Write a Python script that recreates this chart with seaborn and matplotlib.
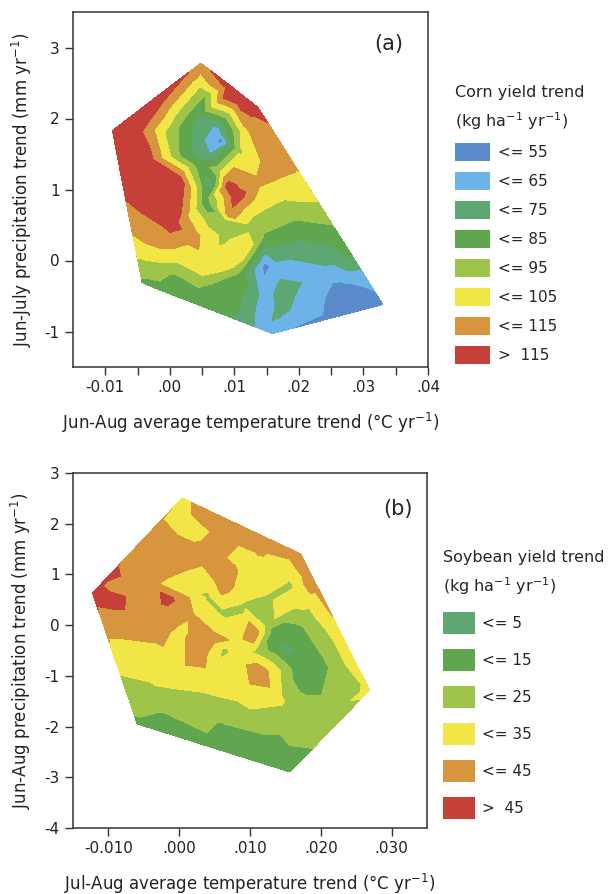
import matplotlib
matplotlib.use("Agg")
import matplotlib.pyplot as plt
import matplotlib.tri as mtri
from matplotlib.patches import Patch
import numpy as np
import seaborn as sns

sns.set_style("ticks")
plt.rcParams["font.family"] = ["DejaVu Sans"]

# ---- panel (a): corn, sample points ----
corn_temp = [-0.0089, 0.0048, 0.0136, 0.0330, 0.0159, -0.0043,
             -0.0075, -0.0063, -0.0053, -0.0047, -0.0021, 0.0023, 0.0093,
             0.0152, 0.0178, 0.0201, 0.0220, 0.0235, 0.0260, 0.0282, 0.0298, 0.0313,
             0.0248, 0.0015, 0.0077, 0.0121, 0.0142,
             -0.0047, -0.0066, -0.0016, 0.0007, 0.0015, 0.0015,
             0.0080, 0.0074, 0.0065, 0.0054, 0.0046, 0.0023, 0.0023, 0.0096, 0.0046,
             0.0057,
             0.0003, 0.0054, 0.0108,
             -0.0016, 0.0046, 0.0116, 0.0023,
             -0.0036, 0.0040, 0.0127,
             0.0108, 0.0124, 0.0089,
             0.0062, 0.0054, 0.0038, 0.0038, 0.0077,
             0.0103, 0.0089, 0.0124, 0.0093,
             0.0147, 0.0155, 0.0139,
             0.0178, 0.0139, 0.0178, 0.0124, 0.0194, 0.0147,
             0.0201, 0.0248,
             0.0170, 0.0232, 0.0209, 0.0147,
             0.0271, 0.0147, 0.0175, 0.0173,
             0.0085, 0.0062, 0.0116, 0.0093, 0.0054, 0.0108, 0.0062, 0.0100, 0.0007,
             -0.0008, 0.0038, -0.0016, 0.0015, -0.0008, -0.0020, 0.0040, 0.0085]
corn_precip = [1.83, 2.78, 2.16, -0.62, -1.03, -0.31,
               1.19, 0.60, 0.21, -0.03, 2.30, 2.61, 2.47,
               1.94, 1.56, 1.22, 0.955, 0.744, 0.379, 0.07, -0.155, -0.38,
               -0.81, -0.51, -0.73, -0.885, -0.97,
               1.40, 1.756, 0.84, 0.49, 1.12, 0.70,
               1.685, 1.854, 1.545, 1.756, 2.04, 1.90, 1.475, 1.685, 1.36,
               1.685,
               1.826, 2.30, 1.545,
               1.826, 2.46, 1.826, 1.29,
               1.826, 2.64, 1.90,
               2.247, 2.107, 2.317,
               1.053, 0.843, 0.983, 0.70, 1.264,
               0.913, 1.053, 0.983, 0.632,
               1.615, 1.334, 1.124,
               1.053, 0.843, 0.772, 0.49, 0.534, 0.351,
               0.21, 0.07,
               -0.112, -0.21, -0.632, -0.56,
               -0.42, -0.07, -0.42, -0.73,
               0.351, 0.49, 0.14, -0.028, -0.112, -0.21, -0.35, -0.56, -0.28,
               0.28, 0.351, 0.07, 0.07, -0.112, -0.40, -0.50, 0.56]
corn_trend = [125, 112, 120, 50, 56, 83,
              122, 110, 102, 92, 124, 116, 121,
              115, 110, 104, 100, 91, 82, 77, 63, 56,
              53, 83, 80, 68, 62,
              130, 128, 124, 119, 122, 118,
              52, 62, 62, 66, 74, 80, 80, 80, 78,
              63,
              90, 84, 93,
              100, 96, 102, 100,
              111, 111, 110,
              121, 118, 121,
              68, 78, 100, 98, 92,
              122, 118, 112, 110,
              112, 110, 107,
              102, 100, 92, 92, 84, 84,
              72, 70,
              60, 60, 60, 60,
              50, 52, 70, 68,
              92, 93, 103, 102, 101, 82, 84, 80, 80,
              110, 108, 101, 101, 90, 82, 78, 90]

corn_levels = [0, 55, 65, 75, 85, 95, 105, 115, 200]
corn_labels = ["<= 55", "<= 65", "<= 75", "<= 85", "<= 95", "<= 105", "<= 115", ">  115"]
corn_colors = ["#5a8ccc", "#6cb3e8", "#5ea672", "#60a64e", "#9ec44a",
               "#f2e646", "#d7963e", "#c6403a"]

# ---- panel (b): soybean ----
soy_temp = [0.00042, 0.01718, 0.0269, 0.01563, -0.00592, -0.01225,
            -0.00972, -0.0069, -0.00408, -0.00197, 0.00366, 0.0100,
            0.01958, 0.02169, 0.02437, 0.02155, 0.01887, 0.00437,
            -0.00732, -0.00831, -0.00944, -0.01085,
            -0.00859, -0.01042,
            -0.00549, -0.00056, -0.00549, 0.003, 0.00718,
            -0.00014, 0.003, -0.00197, -0.00127,
            0.00549, 0.00606, 0.0100, 0.01352, 0.01775, 0.01141, 0.0093,
            0.0093, 0.01493, 0.01704,
            0.00408, 0.00606, 0.00634, 0.0093, 0.01211, 0.01225, 0.01563, 0.0107,
            0.01028, 0.00859,
            0.01493, 0.01704, 0.01352, 0.01915, 0.01704, 0.01958,
            0.01775, 0.02268, 0.02056, 0.01704,
            0.01113, 0.0093, 0.01423, 0.00859,
            0.02268,
            0.00014, 0.003, 0.00437, 0.00183, -0.00408, -0.00268,
            -0.00127, 0.00437, -0.00408, 0.003, 0.0100,
            -0.00268, 0.00577, 0.01282, 0.01563]
soy_precip = [2.507, 1.403, -1.279, -2.896, -1.95, 0.634,
              1.008, 1.42, 1.836, 2.152, 2.29, 1.876,
              0.732, 0.160, -0.589, -1.683, -2.431, -2.403,
              -1.378, -0.983, -0.490, 0.101,
              0.397, 0.791,
              0.89, 1.284, 0.101, 1.383, 1.975,
              2.073, 1.777, 0.791, 0.535,
              0.989, 0.693, 1.087, 0.989, 0.989, 1.482, 0.791,
              1.284, 1.245, 0.496,
              0.555, 0.259, -0.49, 0.377, 0.496, 0.003, 0.791, -0.53,
              -0.195, -0.293,
              -0.451, -0.845, -0.135, -1.181, -0.49, -0.786,
              0.101, -0.885, -1.476, -1.53,
              -0.944, -1.279, -1.476, -0.688,
              -0.195,
              -0.096, -0.589, -0.293, 0.2, -0.589, -0.195,
              -0.983, -1.082, -1.279, -1.476, -1.713,
              -1.772, -1.969, -2.265, -2.029]
soy_trend = [33, 41, 27, 12, 13, 50,
             47, 42, 40, 34, 38, 40,
             38, 35, 32, 23, 15, 12,
             20, 25, 32, 40,
             47, 44,
             41, 40, 40, 39, 39,
             32, 33, 33, 47,
             40, 38, 32, 32, 37, 36, 32,
             32, 32, 31,
             23, 23, 23, 23, 23, 23, 23, 24,
             45, 32,
             3, 8, 8, 11, 6, 10,
             18, 20, 17, 18,
             44, 30, 27, 30,
             30,
             33, 40, 40, 36, 32, 37,
             30, 30, 23, 22, 24,
             14, 14, 13, 17]

soy_levels = [-10, 5, 15, 25, 35, 45, 80]
soy_labels = ["<= 5", "<= 15", "<= 25", "<= 35", "<= 45", ">  45"]
soy_colors = ["#5ea672", "#60a64e", "#9ec44a", "#f2e646", "#d7963e", "#c6403a"]


def draw_map(ax, temp, precip, trend, levels, colors, xscale):
    temp = np.asarray(temp)
    precip = np.asarray(precip)
    # triangulate in roughly screen-isotropic units, plot in data units
    tris = mtri.Triangulation(temp * xscale, precip).triangles
    tri = mtri.Triangulation(temp, precip, tris)
    ax.tricontourf(tri, trend, levels=levels, colors=colors, antialiased=True)
    ax.tricontourf(tri, trend, levels=levels, colors=colors)


fig = plt.figure(figsize=(6.15, 8.94), dpi=100)
ax_a = fig.add_axes([73 / 615, 1 - 367 / 894, 355 / 615, 355 / 894])
ax_b = fig.add_axes([73 / 615, 1 - 828 / 894, 354 / 615, 355 / 894])

draw_map(ax_a, corn_temp, corn_precip, corn_trend, corn_levels, corn_colors, 90)
draw_map(ax_b, soy_temp, soy_precip, soy_trend, soy_levels, soy_colors, 140)

ax_a.set_xlim(-0.015, 0.04)
ax_a.set_ylim(-1.5, 3.5)
ax_a.set_xticks([-0.01, 0.0, 0.01, 0.02, 0.03, 0.04])
ax_a.set_xticklabels(["-0.01", ".00", ".01", ".02", ".03", ".04"])
ax_a.set_xticks([-0.005, 0.005, 0.015, 0.025, 0.035], minor=True)
ax_a.set_yticks([-1, 0, 1, 2, 3])
ax_a.set_yticklabels(["-1", "0", "1", "2", "3"])
ax_a.set_xlabel("Jun-Aug average temperature trend (°C yr$^{-1}$)", fontsize=12, labelpad=11)
ax_a.set_ylabel("Jun-July precipitation trend (mm yr$^{-1}$)", fontsize=12, labelpad=8)
ax_a.text(0.89, 0.91, "(a)", transform=ax_a.transAxes, fontsize=15, ha="center", va="center")

ax_b.set_xlim(-0.015, 0.035)
ax_b.set_ylim(-4, 3)
ax_b.set_xticks([-0.01, 0.0, 0.01, 0.02, 0.03])
ax_b.set_xticklabels(["-0.010", ".000", ".010", ".020", ".030"])
ax_b.set_yticks([-4, -3, -2, -1, 0, 1, 2, 3])
ax_b.set_yticklabels(["-4", "-3", "-2", "-1", "0", "1", "2", "3"])
ax_b.set_xlabel("Jul-Aug average temperature trend (°C yr$^{-1}$)", fontsize=12, labelpad=11)
ax_b.set_ylabel("Jun-Aug precipitation trend (mm yr$^{-1}$)", fontsize=12, labelpad=8)
ax_b.text(0.918, 0.9, "(b)", transform=ax_b.transAxes, fontsize=15, ha="center", va="center")

for ax in (ax_a, ax_b):
    ax.tick_params(which="both", direction="out", length=6, width=1,
                   labelsize=11, color="#333333", labelcolor="#222222")
    for s in ax.spines.values():
        s.set_linewidth(1.1)
        s.set_color("#333333")
    ax.xaxis.label.set_color("#222222")
    ax.yaxis.label.set_color("#222222")

leg_a = fig.legend([Patch(facecolor=c, edgecolor="none") for c in corn_colors], corn_labels,
                   loc="upper left", bbox_to_anchor=(455 / 615, 1 - 85 / 894),
                   frameon=False, title="Corn yield trend\n(kg ha$^{-1}$ yr$^{-1}$)",
                   alignment="left", fontsize=11, title_fontsize=11.5,
                   handlelength=2.3, handleheight=1.44, handletextpad=0.5,
                   labelspacing=0.72, borderpad=0, borderaxespad=0)
leg_a.get_title().set_linespacing(1.6)

leg_b = fig.legend([Patch(facecolor=c, edgecolor="none") for c in soy_colors], soy_labels,
                   loc="upper left", bbox_to_anchor=(443 / 615, 1 - 550 / 894),
                   frameon=False, title="Soybean yield trend\n(kg ha$^{-1}$ yr$^{-1}$)",
                   alignment="left", fontsize=11, title_fontsize=11.5,
                   handlelength=2.1, handleheight=1.84, handletextpad=0.45,
                   labelspacing=0.98, borderpad=0, borderaxespad=0)
leg_b.get_title().set_linespacing(1.6)

fig.savefig("out.png", dpi=100)
